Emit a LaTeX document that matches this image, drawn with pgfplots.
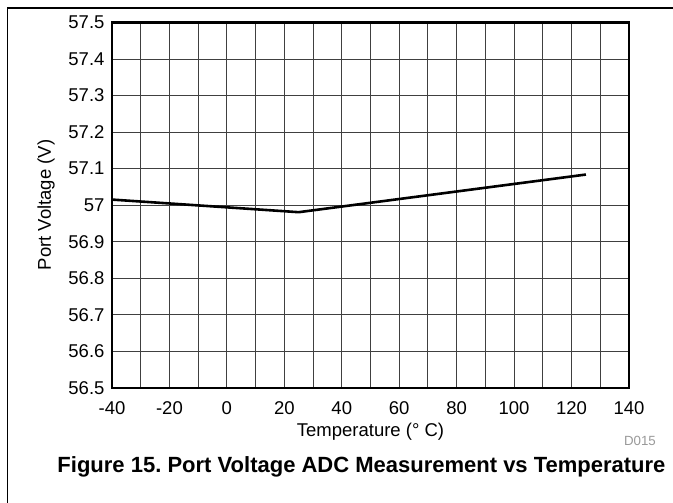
\documentclass[border=0pt]{standalone}
\usepackage{fontspec}
\setmainfont{Liberation Sans}
\usepackage{pgfplots}
\pgfplotsset{compat=1.18}
\frenchspacing
\begin{document}
\begin{tikzpicture}[x=1pt,y=1pt]
\useasboundingbox (0,0) rectangle (673,503);
\fill[white] (0,0) rectangle (673,503);
\draw[line width=1.3pt] (7.5,0) -- (7.5,495) -- (673,495);
\begin{axis}[
  at={(112pt,115pt)}, anchor=south west,
  scale only axis, width=517pt, height=365.5pt,
  xmin=-40, xmax=140, ymin=56.5, ymax=57.5,
  xtick={-40,-20,0,20,40,60,80,100,120,140},
  minor xtick={-30,-10,10,30,50,70,90,110,130},
  ytick={56.5,56.6,56.7,56.8,56.9,57,57.1,57.2,57.3,57.4,57.5},
  grid=both,
  major grid style={black!75, line width=0.9pt},
  minor grid style={black!75, line width=0.9pt},
  axis line style={line width=2.6pt},
  major tick length=0pt, minor tick length=0pt,
  tick style={draw=none},
  ticklabel style={font=\fontsize{18.5}{20}\selectfont},
  /pgf/number format/assume math mode=true,
  xticklabel style={yshift=-10pt},
  yticklabel style={xshift=-4pt},
]
\addplot[line width=2.6pt, black] coordinates {(-40,57.0155) (25,56.981) (125,57.084)};
\end{axis}
\node[font=\fontsize{18.5}{20}\selectfont] at (370.5,71.3) {Temperature (° C)};
\node[font=\fontsize{18.5}{20}\selectfont, rotate=90] at (46,298) {Port Voltage (V)};
\node[font=\fontsize{13.3}{15}\selectfont, text=black!40] at (640,62) {D015};
\node[font=\fontsize{22}{24}\selectfont\bfseries] at (361.5,36.3) {Figure 15. Port Voltage ADC Measurement vs Temperature};
\end{tikzpicture}
\end{document}
